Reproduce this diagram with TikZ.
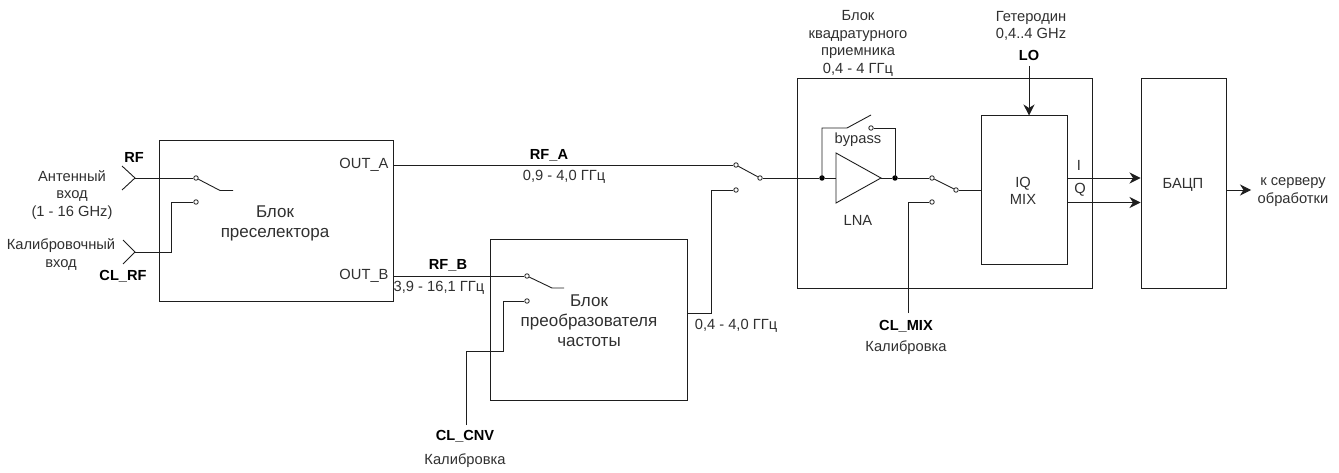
\documentclass[tikz,border=0pt]{standalone}
\usepackage{fontspec}
\setmainfont{Liberation Sans}
\usetikzlibrary{arrows.meta}
\definecolor{ink}{HTML}{1E1E1E}
\definecolor{txt}{HTML}{303030}
\tikzset{
  wire/.style={draw=ink,line width=0.9pt},
  boxline/.style={draw=ink,line width=1pt},
  arrowwire/.style={wire,-{Stealth[length=11pt,width=11pt,inset=3.5pt]}},
  lab/.style={text=txt,font=\fontsize{17}{20}\selectfont,align=center,inner sep=0pt},
  small/.style={text=txt,font=\fontsize{14.7}{17.5}\selectfont,align=center,inner sep=0pt},
  boldlab/.style={text=black,font=\fontsize{14.6}{16}\selectfont\bfseries,inner sep=0pt},
  contact/.style={circle,draw=ink,fill=white,line width=0.8pt,minimum size=4.5pt,inner sep=0pt},
  dot/.style={circle,fill=black,minimum size=5.5pt,inner sep=0pt},
}
\begin{document}
\begin{tikzpicture}[x=1pt,y=-1pt]
\useasboundingbox (0,0) rectangle (1339,473);
% boxes
\node[boxline,minimum width=234pt,minimum height=160pt,inner sep=0pt] (pre) at (276,221) {};
\node[boxline,minimum width=197pt,minimum height=160pt,inner sep=0pt] (conv) at (588.5,320) {};
\node[boxline,minimum width=295pt,minimum height=209pt,inner sep=0pt] (rx) at (944.5,183.5) {};
\node[boxline,minimum width=86pt,minimum height=149pt,inner sep=0pt] (mix) at (1024,190.5) {};
\node[boxline,minimum width=85pt,minimum height=209pt,inner sep=0pt] (adc) at (1183.5,183.5) {};
% box texts
\node[lab] (pretxt) at (275,223) {Блок\\преселектора};
\node[lab] (convtxt) at (589,321) {Блок\\преобразователя\\частоты};
\node[small] (mixtxt) at (1023,191) {IQ\\MIX};
\node[small] (adctxt) at (1183,185) {БАЦП};
\node[small] (outa) at (364,165) {OUT\_A};
\node[small] (outb) at (364,276) {OUT\_B};
\node[small] (ilab) at (1079,165) {I};
\node[small] (qlab) at (1080,190) {Q};
% preselector inputs
\coordinate (rfa) at (122,166); \coordinate (rft) at (135,178); \coordinate (rfb) at (122,190);
\coordinate (cla) at (123,240); \coordinate (clt) at (135,252); \coordinate (clb) at (123,264);
\draw[wire] (rfa) -- (rft) -- (rfb);
\draw[wire] (cla) -- (clt) -- (clb);
\node[contact] (s1a) at (196,178) {};
\node[contact] (s1b) at (196,202) {};
\coordinate (s1k) at (220,190.5); \coordinate (s1e) at (233,190.5);
\draw[wire] (rft) -- (s1a);
\draw[wire] (s1a) -- (s1k) -- (s1e);
\draw[wire] (clt) -| (171,202) -- (s1b);
% RF_A path and main switch
\coordinate (oa) at (393,165); \coordinate (ob) at (393,276);
\node[contact] (s2a) at (736,165) {};
\node[contact] (s2b) at (736,190) {};
\node[contact] (s2c) at (760,178) {};
\draw[wire] (oa) -- (s2a);
\draw[wire] (s2a) -- (s2c);
% RF_B path
\node[contact] (s3a) at (527,276) {};
\node[contact] (s3b) at (527,301) {};
\coordinate (s3k) at (552,288); \coordinate (s3e) at (564,288);
\draw[wire] (ob) -- (s3a);
\draw[wire] (s3a) -- (s3k) -- (s3e);
\coordinate (cnvend) at (466,425);
\draw[wire] (cnvend) -- (466,351) -- (503,351) -- (503,301) -- (s3b);
\coordinate (convout) at (687,313);
\draw[wire] (convout) -- (711,313) -- (711,190) -- (s2b);
% LNA
\coordinate (lnaa) at (836,153); \coordinate (lnab) at (836,203); \coordinate (lnat) at (881,178);
\draw[wire] (lnaa) -- (lnat) -- (lnab) -- cycle;
\node[dot] (d1) at (822,178) {};
\node[dot] (d2) at (895,178) {};
\draw[wire] (s2c) -- (d1);
\draw[wire] (d1) -- (836,178);
\draw[wire] (lnat) -- (d2);
% bypass
\node[contact] (bpc) at (871,128) {};
\coordinate (bpk) at (847,128); \coordinate (bpe) at (871,115);
\draw[wire] (d1.center) -- (822,128) -- (bpk) -- (bpe);
\draw[wire] (bpc) -- (895,128) -- (d2.center);
% mixer switch
\node[contact] (s4a) at (932,178) {};
\node[contact] (s4b) at (932,202) {};
\node[contact] (s4c) at (956,190) {};
\draw[wire] (d2) -- (s4a);
\draw[wire] (s4a) -- (s4c);
\draw[wire] (s4c) -- (s4c -| mix.west);
\coordinate (mixend) at (908,313);
\draw[wire] (mixend) -- (908,202) -- (s4b);
% LO, outputs
\coordinate (lostart) at (1029,66);
\draw[arrowwire] (lostart) -- (lostart |- mix.north);
\coordinate (iout) at (1067,178); \coordinate (qout) at (1067,202.5);
\draw[arrowwire] (iout) -- (iout -| adc.west);
\draw[arrowwire] (qout) -- (qout -| adc.west);
\coordinate (srv) at (1251,190);
\draw[arrowwire] (srv -| adc.east) -- (srv);
% labels
\node[boldlab] (rflab) at (134,157) {RF};
\node[small] (anttxt) at (72,195) {Антенный\\вход\\(1 - 16 GHz)};
\node[small] (caltxt) at (61,254.5) {Калибровочный\\вход};
\node[boldlab] (clrflab) at (123,276) {CL\_RF};
\node[boldlab] (rfalab) at (549,155) {RF\_A};
\node[small] (rfaf) at (564,177) {0,9 - 4,0 ГГц};
\node[boldlab] (rfblab) at (448,265) {RF\_B};
\node[small] (rfbf) at (439,288) {3,9 - 16,1 ГГц};
\node[small] (convf) at (736,326) {0,4 - 4,0 ГГц};
\node[boldlab] (clcnv) at (465,436) {CL\_CNV};
\node[small] (cal1) at (465,461) {Калибровка};
\node[boldlab] (clmix) at (906,326) {CL\_MIX};
\node[small] (cal2) at (906,348) {Калибровка};
\node[small] (rxtxt) at (858,43.5) {Блок\\квадратурного\\приемника\\0,4 - 4 ГГц};
\node[small] (lotxt) at (1031,26) {Гетеродин\\0,4..4 GHz};
\node[boldlab] (lolab) at (1029,55) {LO};
\node[small] (bypass) at (858,140) {bypass};
\node[small] (lna) at (858,220) {LNA};
\node[small] (srvtxt) at (1293,192) {к серверу\\обработки};
\end{tikzpicture}
\end{document}
